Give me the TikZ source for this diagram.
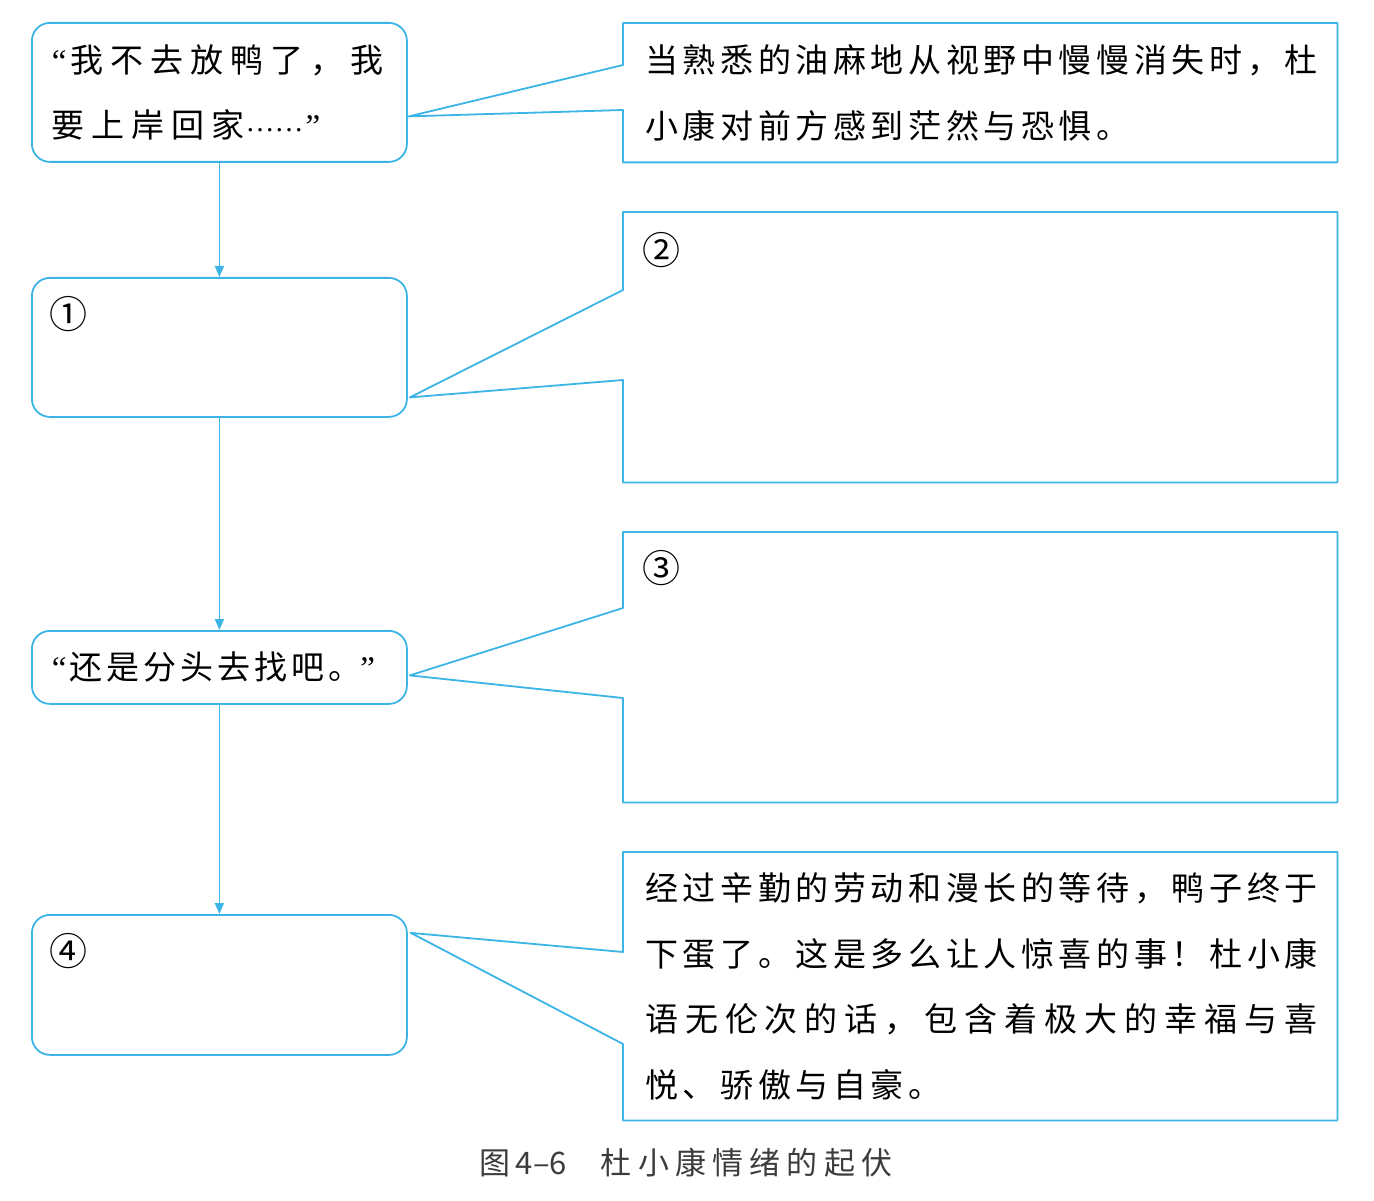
\documentclass[tikz,border=0pt]{standalone}
\usepackage{fontspec}
\newfontfamily\cjk{Noto Sans CJK SC}
\newfontfamily\cjkr[LetterSpace=14]{Noto Sans CJK SC}
\newfontfamily\cjkl[LetterSpace=21]{Noto Sans CJK SC}
\newfontfamily\cjkm[LetterSpace=12]{Noto Sans CJK SC}
\newfontfamily\cjkc[LetterSpace=20]{Noto Sans CJK SC}
\newfontfamily\latq{Liberation Serif}
\newcommand{\myoq}{{\latq\fontsize{33}{33}\selectfont “}}
\newcommand{\mycq}{{\latq\fontsize{33}{33}\selectfont ”}}
\newcommand{\mydots}{\raisebox{6pt}{\latq\fontsize{29}{29}\selectfont ……}}
\usetikzlibrary{arrows.meta,calc}
\definecolor{lineblue}{RGB}{60,180,230}
\definecolor{capgray}{RGB}{60,60,60}
\begin{document}
\begin{tikzpicture}[x=1pt,y=-1pt,
  conn/.style={draw=lineblue, line width=1.8pt, line join=round},
  arr/.style={conn, -{Triangle[width=9pt,length=11pt]}},
  lbox/.style={draw=lineblue, line width=1.8pt, rounded corners=18pt,
    minimum width=375pt, anchor=north west, inner sep=0pt,
    font=\cjkl\fontsize{33}{65}\selectfont, align=left, text width=335pt},
  rbox/.style={draw=none, minimum width=714pt, anchor=north west, inner sep=0pt,
    font=\cjkr\fontsize{33}{65.5}\selectfont, align=left, text width=670pt},
  num/.style={inner sep=0pt, font=\cjk\fontsize{38}{38}\selectfont}
]
\useasboundingbox (0,0) rectangle (1374,1201);

% left boxes
\node[lbox, minimum height=139pt] (l1) at (31,22) {\myoq\hspace{4pt}我不去放鸭了，我\\要上岸回家\hspace{1pt}\mydots\hspace{2pt}\mycq};
\node[lbox, minimum height=139pt] (l2) at (31,277) {};
\node[lbox, minimum height=73pt]  (l3) at (31,630) {\myoq\hspace{3pt}{\cjkm 还是分头去找吧。}\hspace{-1pt}\mycq};
\node[lbox, minimum height=140pt] (l4) at (31,914) {};

% right boxes
\node[rbox, minimum height=139pt] (r1) at (623,23) {当熟悉的油麻地从视野中慢慢消失时，杜\\小康对前方感到茫然与恐惧。};
\node[rbox, minimum height=270pt] (r2) at (623,212) {};
\node[rbox, minimum height=270pt] (r3) at (623,532) {};
\node[rbox, minimum height=268pt] (r4) at (623,852) {经过辛勤的劳动和漫长的等待，鸭子终于\\下蛋了。这是多么让人惊喜的事！杜小康\\{\addfontfeature{LetterSpace=21}语无伦次的话，包含着极大的幸福与喜}\\悦、骄傲与自豪。};

% numbers
\node[num] (n1) at (68,314) {①};
\node[num] (n2) at (661,250) {②};
\node[num] (n3) at (661,568) {③};
\node[num] (n4) at (68,951) {④};

% callouts
\draw[conn] ($(r1.north west)+(0,42)$) -- (r1.north west) -- (r1.north east) -- (r1.south east) -- (r1.south west) -- ($(r1.north west)+(0,87)$) -- ($(l1.east)+(1,24)$) -- cycle;
\draw[conn] ($(r2.north west)+(0,78)$) -- (r2.north west) -- (r2.north east) -- (r2.south east) -- (r2.south west) -- ($(r2.north west)+(0,168)$) -- ($(l2.east)+(2,50)$) -- cycle;
\draw[conn] ($(r3.north west)+(0,76)$) -- (r3.north west) -- (r3.north east) -- (r3.south east) -- (r3.south west) -- ($(r3.north west)+(0,166)$) -- ($(l3.east)+(2,8)$) -- cycle;
\draw[conn] ($(r4.north west)+(0,100)$) -- (r4.north west) -- (r4.north east) -- (r4.south east) -- (r4.south west) -- ($(r4.north west)+(0,192)$) -- ($(l4.east)+(3,-52)$) -- cycle;

% vertical arrows
\draw[arr] (l1.south) -- (l2.north);
\draw[arr] (l2.south) -- (l3.north);
\draw[arr] (l3.south) -- (l4.north);

% caption
\node[inner sep=0pt, text=capgray, font=\cjk\fontsize{31}{31}\selectfont] (cap) at (686,1163) {图\,4–6\hspace{34pt}{\cjkc 杜小康情绪的起伏}};
\end{tikzpicture}
\end{document}
